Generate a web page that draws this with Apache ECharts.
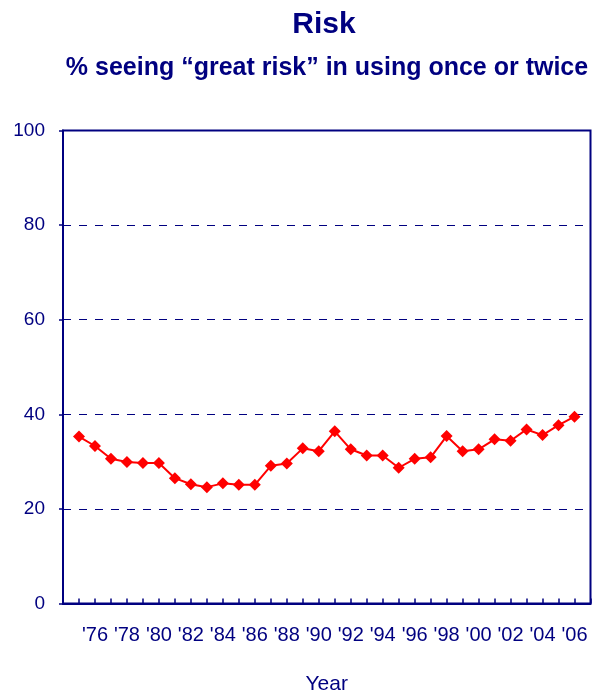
<!DOCTYPE html>
<html><head><meta charset="utf-8">
<script src="https://cdn.jsdelivr.net/npm/echarts@6/dist/echarts.min.js"></script>
<style>html,body{margin:0;padding:0;background:#fff}#c{width:608px;height:700px}</style>
</head><body><div id="c"></div>
<script>
const years = [1975,1976,1977,1978,1979,1980,1981,1982,1983,1984,1985,1986,1987,1988,1989,1990,1991,1992,1993,1994,1995,1996,1997,1998,1999,2000,2001,2002,2003,2004,2005,2006];
const values = [35.3,33.3,30.6,29.9,29.7,29.7,26.5,25.2,24.6,25.4,25.1,25.1,29.1,29.6,32.8,32.2,36.4,32.6,31.3,31.3,28.7,30.6,30.9,35.4,32.2,32.6,34.7,34.4,36.8,35.6,37.7,39.5];
const yTicks = [0,20,40,60,80,100];
const navy = '#000080';
const chart = echarts.init(document.getElementById('c'), null, {renderer:'canvas', width:608, height:700});
chart.setOption({
  animation:false,
  backgroundColor:'#fff',
  title:[
    {text:'Risk', left:319, top:5, textAlign:'center', textStyle:{fontFamily:'Liberation Sans', fontWeight:'bold', fontSize:30, color:navy}},
    {text:'% seeing \u201Cgreat risk\u201D in using once or twice', left:322, top:51, textAlign:'center', textStyle:{fontFamily:'Liberation Sans', fontWeight:'bold', fontSize:25, color:navy}}
  ],
  grid:{left:63, width:527.5, top:130.5, height:477.5, show:true, borderColor:navy, borderWidth:2, backgroundColor:'transparent'},
  xAxis:{
    type:'value', min:1974, max:2007, interval:1,
    name:'Year', nameLocation:'middle', nameGap:81,
    nameTextStyle:{fontFamily:'Liberation Sans', fontSize:21, color:navy, verticalAlign:'middle'},
    axisLine:{show:true, lineStyle:{color:navy, width:2}},
    axisTick:{show:true, inside:true, length:5, lineStyle:{color:navy, width:1.5}},
    splitLine:{show:false},
    axisLabel:{
      fontFamily:'Liberation Sans', fontSize:20, color:navy, margin:22,
      formatter:function(v){ return (v%2===0 && v>=1976 && v<=2006) ? "'" + String(v).slice(2) : ''; }
    }
  },
  yAxis:{
    type:'value', min:0, max:100, interval:20,
    axisLine:{show:true, lineStyle:{color:navy, width:2}},
    axisTick:{show:true, inside:false, length:4, lineStyle:{color:navy, width:1.5}},
    splitLine:{show:true, lineStyle:{color:navy, type:[8,8], width:1}},
    axisLabel:{fontFamily:'Liberation Sans', fontSize:19, color:navy, margin:18,
      formatter:function(v){ return yTicks.indexOf(v)>=0 ? String(v) : ''; }}
  },
  series:[{
    type:'line',
    data:years.map((y,i)=>[y, values[i]]),
    symbol:'diamond', symbolSize:12,
    lineStyle:{color:'#ff0000', width:2},
    itemStyle:{color:'#ff0000'}
  }]
});
</script></body></html>
